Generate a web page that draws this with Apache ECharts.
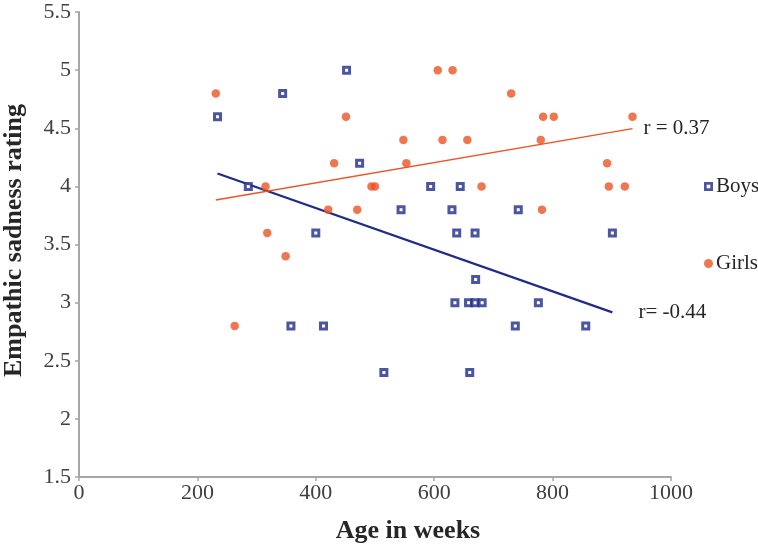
<!DOCTYPE html>
<html>
<head>
<meta charset="utf-8">
<script src="https://cdn.jsdelivr.net/npm/echarts@6/dist/echarts.min.js"></script>
<style>
html,body{margin:0;padding:0;background:#fff;}
#chart{width:758px;height:552px;}
</style>
</head>
<body>
<div id="chart"></div>
<script>
const seriesNames = ['Boys', 'Girls'];
const boysAge = [234, 286, 344, 452, 474, 400, 358, 413, 515, 544, 594, 644, 630, 742, 638, 669, 901, 670, 635, 658, 669, 681, 776, 737, 856, 660];
const boysRating = [4.6, 4.0, 4.8, 5.0, 4.2, 3.6, 2.8, 2.8, 2.4, 3.8, 4.0, 4.0, 3.8, 3.8, 3.6, 3.6, 3.6, 3.2, 3.0, 3.0, 3.0, 3.0, 3.0, 2.8, 2.8, 2.4];
const girlsAge = [231, 263, 315, 318, 349, 421, 431, 451, 470, 494, 500, 548, 553, 606, 614, 631, 656, 680, 730, 780, 782, 784, 802, 892, 895, 922, 935];
const girlsRating = [4.8, 2.8, 4.0, 3.6, 3.4, 3.8, 4.2, 4.6, 3.8, 4.0, 4.0, 4.4, 4.2, 5.0, 4.4, 5.0, 4.4, 4.0, 4.8, 4.4, 3.8, 4.6, 4.6, 4.2, 4.0, 4.0, 4.6];
const rLabels = ['r= -0.44', 'r = 0.37'];
const xTitle = 'Age in weeks';
const yTitle = 'Empathic sadness rating';

function pairs(xs, ys) { return xs.map((x, i) => [x, ys[i]]); }
function trend(xs, ys) {
  const n = xs.length;
  const mx = xs.reduce((a, b) => a + b, 0) / n;
  const my = ys.reduce((a, b) => a + b, 0) / n;
  let sxy = 0, sxx = 0;
  for (let i = 0; i < n; i++) { sxy += (xs[i] - mx) * (ys[i] - my); sxx += (xs[i] - mx) * (xs[i] - mx); }
  const b = sxy / sxx, a = my - b * mx;
  const x0 = Math.min(...xs), x1 = Math.max(...xs);
  return [[x0, a + b * x0], [x1, a + b * x1]];
}

const BLUE = '#1f2c88';
const ORANGE = '#ec5424';
const FONT = 'Liberation Serif';
const RING = 'path://M0,0H10V10H0Z M3,3V7H7V3Z';

const chart = echarts.init(document.getElementById('chart'));
chart.setOption({
  animation: false,
  backgroundColor: '#fff',
  grid: { left: 79, right: 87, top: 12, bottom: 75, containLabel: false, outerBoundsMode: 'none' },
  legend: {
    orient: 'vertical',
    left: 699,
    top: 171,
    itemGap: 56,
    itemWidth: 9,
    itemHeight: 9,
    data: [
      { name: seriesNames[0], icon: RING, itemStyle: { color: BLUE, borderWidth: 0 } },
      { name: seriesNames[1] }
    ],
    textStyle: { fontFamily: FONT, fontSize: 21, color: '#262626', padding: [0, 0, 0, -2] }
  },
  xAxis: {
    type: 'value', min: 0, max: 1000, interval: 200,
    name: xTitle, nameLocation: 'middle', nameGap: 41,
    nameTextStyle: { fontFamily: FONT, fontSize: 26, fontWeight: 'bold', color: '#262626', padding: [0, 0, 0, 66] },
    axisLine: { lineStyle: { color: '#a6a6a6', width: 2 } },
    axisTick: { show: true, length: 4, lineStyle: { color: '#a6a6a6', width: 1.5 } },
    axisLabel: { fontFamily: FONT, fontSize: 22, color: '#404040', margin: 5, formatter: v => String(v) },
    splitLine: { show: false }
  },
  yAxis: {
    type: 'value', min: 1.5, max: 5.5, interval: 0.5,
    name: yTitle, nameLocation: 'middle', nameGap: 52, nameRotate: 90,
    nameTextStyle: { fontFamily: FONT, fontSize: 26, fontWeight: 'bold', color: '#262626', padding: [0, 0, 0, 8] },
    axisLine: { show: true, lineStyle: { color: '#a6a6a6', width: 2 } },
    axisTick: { show: true, length: 4, lineStyle: { color: '#a6a6a6', width: 1.5 } },
    axisLabel: { fontFamily: FONT, fontSize: 22, color: '#404040', margin: 8 },
    splitLine: { show: false }
  },
  series: [
    {
      name: seriesNames[0], type: 'scatter', symbol: 'rect', symbolSize: 6,
      itemStyle: { color: '#ffffff', borderColor: BLUE, borderWidth: 3 },
      data: pairs(boysAge, boysRating), z: 3
    },
    {
      name: seriesNames[1], type: 'scatter', symbol: 'circle', symbolSize: 8.5,
      itemStyle: { color: ORANGE },
      data: pairs(girlsAge, girlsRating), z: 3
    },
    {
      name: 'Boys trend', type: 'line', symbol: 'none', silent: true,
      lineStyle: { color: BLUE, width: 2.2 },
      data: trend(boysAge, boysRating), z: 2,
      endLabel: { show: true, formatter: rLabels[0], distance: 26, fontFamily: FONT, fontSize: 21, color: '#262626' }
    },
    {
      name: 'Girls trend', type: 'line', symbol: 'none', silent: true,
      lineStyle: { color: ORANGE, width: 1.4 },
      data: trend(girlsAge, girlsRating), z: 2,
      endLabel: { show: true, formatter: rLabels[1], distance: 11, fontFamily: FONT, fontSize: 21, color: '#262626' }
    }
  ]
});
</script>
</body>
</html>
